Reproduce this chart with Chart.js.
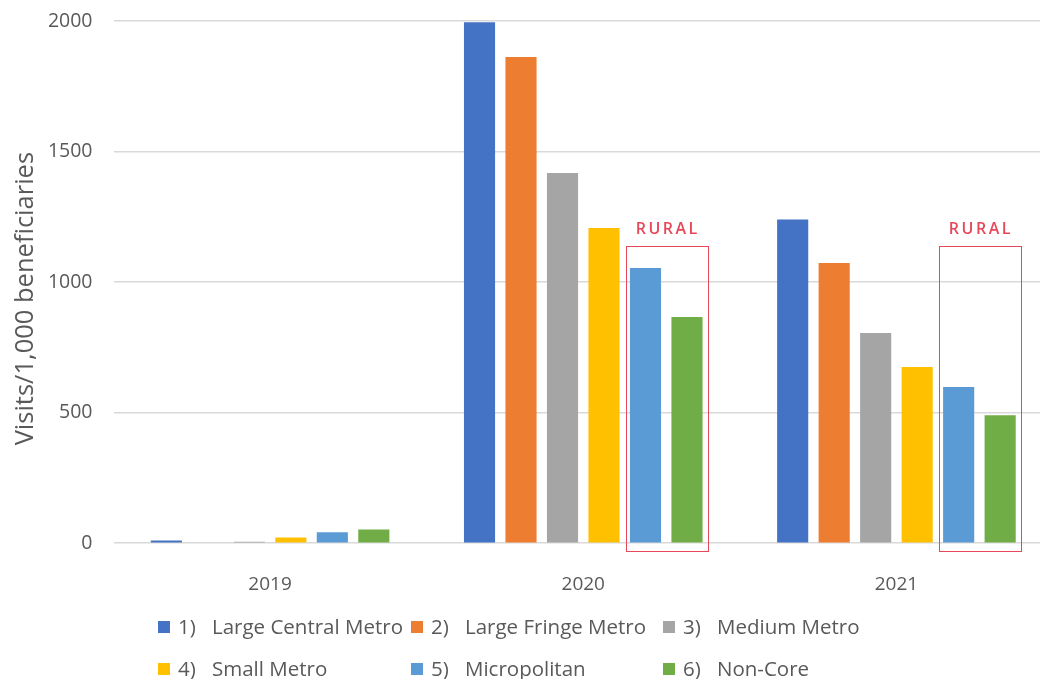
<!DOCTYPE html>
<html>
<head>
<meta charset="utf-8">
<script src="https://cdn.jsdelivr.net/npm/chart.js@4/dist/chart.umd.min.js"></script>
<style>
  html, body { margin: 0; padding: 0; background: #ffffff; }
  #wrap { position: relative; width: 1040px; height: 679px; overflow: hidden; }
  #c { position: absolute; left: 0; top: 0; }
  #legend { position: absolute; left: 0; top: 0; width: 1040px; height: 679px; pointer-events: none; }
  .li { position: absolute; font-family: "Open Sans", sans-serif; font-size: 20.5px; color: #595959; white-space: pre; line-height: 24px; }
  .sw { display: inline-block; width: 12px; height: 12px; margin-right: 8px; vertical-align: 1px; }
  .num { display: inline-block; width: 34px; }
</style>
</head>
<body>
<div id="wrap">
  <canvas id="c" width="1056" height="679"></canvas>
  <div id="legend"></div>
</div>
<script>
// ---- data ----
const categories = ['2019', '2020', '2021'];
const seriesNames = [
  '1)  Large Central Metro',
  '2)  Large Fringe Metro',
  '3)  Medium Metro',
  '4)  Small Metro',
  '5)  Micropolitan',
  '6)  Non-Core'
];
const largeCentralMetro = [10, 1995, 1240];
const largeFringeMetro  = [0, 1862, 1073];
const mediumMetro       = [6, 1418, 805];
const smallMetro        = [22, 1207, 675];
const micropolitan      = [42, 1054, 598];
const nonCore           = [52, 866, 490];
const yTickValues = [0, 500, 1000, 1500, 2000];
const yTickLabels = ['0', '500', '1000', '1500', '2000'];
const yTitle = 'Visits/1,000 beneficiaries';
const ruralLabel = 'RURAL';
const ruralCategories = [1, 2];
const ruralSeries = [4, 5];
const ruralBoxTop = 1138;

const colors = ['#4472C4', '#ED7D31', '#A5A5A5', '#FFC000', '#5B9BD5', '#70AD47'];
const allSeries = [largeCentralMetro, largeFringeMetro, mediumMetro, smallMetro, micropolitan, nonCore];

const FONT = '"Open Sans", sans-serif';
const TXT = '#595959';

const ruralPlugin = {
  id: 'rural',
  afterDatasetsDraw(chart) {
    const ctx = chart.ctx;
    const y = chart.scales.y;
    const mA = chart.getDatasetMeta(ruralSeries[0]);
    const mB = chart.getDatasetMeta(ruralSeries[1]);
    ctx.save();
    ruralCategories.forEach(i => {
      const a = mA.data[i], b = mB.data[i];
      const left = a.x - a.width / 2 - 4;
      const right = b.x + b.width / 2 + 5;
      const top = y.getPixelForValue(ruralBoxTop);
      const bottom = y.getPixelForValue(0) + 8;
      ctx.strokeStyle = '#E8475A';
      ctx.lineWidth = 1;
      ctx.strokeRect(Math.round(left) + 0.5, Math.round(top) + 0.5, Math.round(right - left), Math.round(bottom - top));
      ctx.fillStyle = '#E8475A';
      ctx.font = '600 16px ' + FONT;
      ctx.textAlign = 'center';
      ctx.textBaseline = 'middle';
      if ('letterSpacing' in ctx) ctx.letterSpacing = '2.5px';
      ctx.fillText(ruralLabel, (left + right) / 2 + 1, top - 17);
    });
    ctx.restore();
  }
};

const chart = new Chart(document.getElementById('c'), {
  type: 'bar',
  data: {
    labels: categories,
    datasets: allSeries.map((d, k) => ({
      label: seriesNames[k],
      data: d,
      backgroundColor: colors[k],
      borderWidth: 0,
      categoryPercentage: 0.795,
      barPercentage: 0.75
    }))
  },
  options: {
    responsive: false,
    animation: false,
    layout: { padding: { top: 21, right: 3, bottom: 61, left: 0 } },
    plugins: {
      legend: { display: false },
      tooltip: { enabled: false }
    },
    scales: {
      x: {
        grid: { display: false },
        border: { display: false },
        ticks: { color: TXT, font: { family: FONT, size: 19 }, padding: 22 },
        afterFit(scale) { scale.paddingLeft = 0; scale.paddingRight = 0; }
      },
      y: {
        min: 0,
        max: 2000,
        afterBuildTicks(scale) { scale.ticks = yTickValues.map(v => ({ value: v })); },
        afterFit(scale) { scale.width = 113.5; scale.paddingTop = 0; scale.paddingBottom = 0; },
        grid: { color: '#d9d9d9', lineWidth: 1.5, drawTicks: false },
        border: { display: false },
        ticks: {
          color: TXT,
          font: { family: FONT, size: 19.5 },
          padding: 21,
          callback: (v) => yTickLabels[yTickValues.indexOf(v)]
        },
        title: {
          display: true,
          text: yTitle + '     ',
          color: TXT,
          font: { family: FONT, size: 25.5 },
          padding: { top: 10, bottom: 0 }
        }
      }
    }
  },
  plugins: [ruralPlugin]
});

// HTML legend built from the chart's datasets
const legendCols = [158, 411, 663];
const legendRows = [614, 656];
const lg = document.getElementById('legend');
chart.data.datasets.forEach((ds, k) => {
  const el = document.createElement('div');
  el.className = 'li';
  el.style.left = legendCols[k % 3] + 'px';
  el.style.top = legendRows[Math.floor(k / 3)] + 'px';
  const sw = document.createElement('span');
  sw.className = 'sw';
  sw.style.background = ds.backgroundColor;
  el.appendChild(sw);
  const cut = ds.label.indexOf(')') + 1;
  const num = document.createElement('span');
  num.className = 'num';
  num.textContent = ds.label.slice(0, cut);
  el.appendChild(num);
  el.appendChild(document.createTextNode(ds.label.slice(cut).trim()));
  lg.appendChild(el);
});
</script>
</body>
</html>
